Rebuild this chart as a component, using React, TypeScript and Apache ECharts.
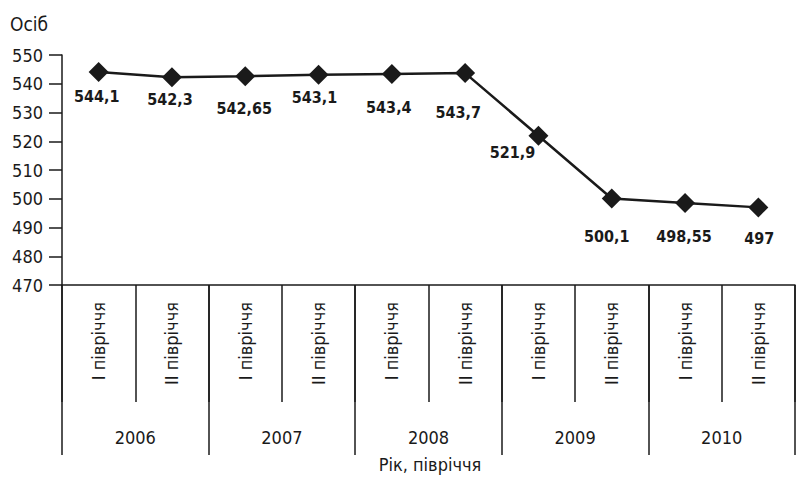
import React, { useEffect, useRef } from "react";
import * as echarts from "echarts";

const halfYears = [
  "І півріччя", "ІІ півріччя",
  "І півріччя", "ІІ півріччя",
  "І півріччя", "ІІ півріччя",
  "І півріччя", "ІІ півріччя",
  "І півріччя", "ІІ півріччя",
];
const years = ["2006", "2007", "2008", "2009", "2010"];
const values = [544.1, 542.3, 542.65, 543.1, 543.4, 543.7, 521.9, 500.1, 498.55, 497];
const yTicks = { min: 470, max: 550, interval: 10 };
const yTitle = "Осіб";
const xTitle = "Рік, півріччя";

// label placement offsets relative to marker centre (styling)
const labelOffsets = [
  [-2, 25], [-2, 22], [-1, 32], [-4, 23], [-3, 34],
  [-7, 39], [-26, 17], [-5, 38], [-1, 34], [1, 31],
];

const FONT = "'DejaVu Sans Condensed', 'Liberation Sans Narrow', 'Liberation Sans', sans-serif";
const INK = "#1a1a1a";

export default function App() {
  const ref = useRef<HTMLDivElement>(null);
  useEffect(() => {
    if (!ref.current) return;
    const chart = echarts.init(ref.current, null, { renderer: "svg" });
    chart.setOption({
      animation: false,
      backgroundColor: "#ffffff",
      textStyle: { fontFamily: FONT },
      grid: { left: 62, right: 6, top: 55, bottom: 197, containLabel: false },
      graphic: [
        {
          type: "text",
          left: 10,
          top: 14,
          style: { text: yTitle, font: `19px ${FONT}`, fill: INK },
        },
        {
          type: "text",
          x: 430,
          y: 464,
          style: {
            text: xTitle,
            font: `18px ${FONT}`,
            fill: INK,
            textAlign: "center",
            textVerticalAlign: "middle",
          },
        },
      ],
      xAxis: [
        {
          type: "category",
          data: halfYears,
          position: "bottom",
          boundaryGap: true,
          axisLine: { show: true, lineStyle: { color: INK, width: 1.5 } },
          axisTick: {
            show: true,
            interval: 0,
            alignWithLabel: false,
            length: 117,
            lineStyle: { color: INK, width: 1.5 },
          },
          axisLabel: {
            interval: 0,
            rotate: 90,
            margin: 17,
            fontSize: 18,
            fontFamily: FONT,
            color: INK,
          },
        },
        {
          type: "category",
          data: years,
          position: "bottom",
          boundaryGap: true,
          axisLine: { show: false },
          axisTick: {
            show: true,
            interval: 0,
            alignWithLabel: false,
            length: 170,
            lineStyle: { color: INK, width: 1.5 },
          },
          axisLabel: {
            interval: 0,
            margin: 143,
            fontSize: 18,
            fontFamily: FONT,
            color: INK,
          },
        },
      ],
      yAxis: {
        type: "value",
        min: yTicks.min,
        max: yTicks.max,
        interval: yTicks.interval,
        axisLine: { show: true, lineStyle: { color: INK, width: 1.5 } },
        axisTick: { show: true, length: 13, lineStyle: { color: INK, width: 1.5 } },
        axisLabel: { margin: 19, fontSize: 18, fontFamily: FONT, color: INK },
        splitLine: { show: false },
      },
      series: [
        {
          type: "line",
          xAxisIndex: 0,
          data: values.map((v, i) => ({
            value: v,
            label: { offset: labelOffsets[i] },
          })),
          symbol: "diamond",
          symbolSize: 20,
          lineStyle: { color: INK, width: 2.5 },
          itemStyle: { color: INK },
          label: {
            show: true,
            position: "inside",
            formatter: (p: any) => String(p.value).replace(".", ","),
            fontSize: 16,
            fontWeight: "bold",
            fontFamily: FONT,
            color: INK,
          },
        },
      ],
    });
    return () => chart.dispose();
  }, []);
  return <div ref={ref} style={{ width: 801, height: 482, position: "absolute", left: 0, top: 0 }} />;
}
